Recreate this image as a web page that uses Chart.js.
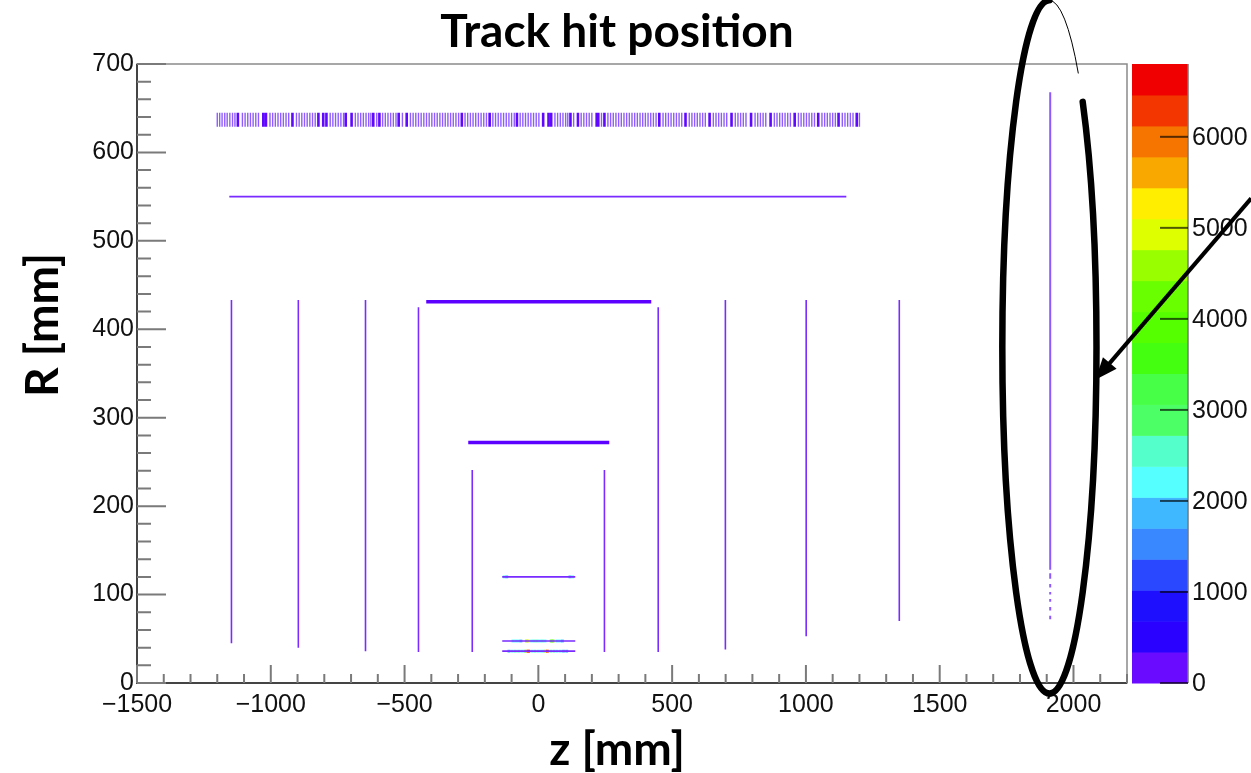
<!DOCTYPE html>
<html>
<head>
<meta charset="utf-8">
<script src="https://cdn.jsdelivr.net/npm/chart.js@4.4.0/dist/chart.umd.min.js"></script>
<style>
  html, body { margin: 0; padding: 0; background: #fff; }
</style>
</head>
<body>
<canvas id="chart" width="1251" height="773"></canvas>
<script>
/* ---------- data ---------- */
const xTicks = [-1500, -1000, -500, 0, 500, 1000, 1500, 2000];
const yTicks = [0, 100, 200, 300, 400, 500, 600, 700];
const zTicks = [0, 1000, 2000, 3000, 4000, 5000, 6000];
const zMax = 6800;

// colour palette of the z scale, bottom to top (20 contours)
const palette = ['#6a0aff','#2a00ff','#1e10ff','#2a48ff','#3a88ff','#40b8ff','#55ffff','#55ffcc','#4dff66','#48ff48',
                 '#44ff10','#55ff00','#6aff00','#99ff00','#ddff00','#ffee00','#f9a800','#f57500','#f33500','#f00000'];

// outer barrel (R ~ 629..645): strip positions in z [mm]
const stripR = [629, 645];
const stripsLight = [-1200,-1191,-1182,-1172,-1163,-1153,-1143,-1134,-1106,-1096,-1086,-1076,-1066,-1056,-1046,
  -1003,-993,-983,-973,-963,-953,-943,-933,-904,-894,-884,-874,-864,-854,-844,-834,
  -778,-768,-758,-748,-738,-728,-684,-674,-664,-654,-644,-634,-626,-604,-582,-572,-562,-552,-542,-532,-508,
  -478,-468,-458,-448,-438,-428,-418,-408,-398,-388,-378,-368,-358,-348,-338,-328,-318,-308,-298,
  -274,-264,-254,-244,-234,-224,-214,-204,-194,-170,-160,-150,-140,-130,-120,-110,-100,-90,
  -68,-58,-48,-38,-28,-18,-8,2,62,72,82,92,102,110,132,160,170,180,190,200,236,
  260,270,280,290,300,310,320,330,340,350,360,370,380,390,400,410,420,430,440,
  466,476,486,496,506,516,526,536,564,574,584,594,604,614,624,654,664,674,684,694,704,
  736,746,756,766,776,810,820,830,840,850,882,892,902,912,922,932,942,
  972,982,992,1002,1012,1022,1032,1060,1070,1080,1090,1100,1110,1136,1146,1156,1166,1176,1200];
const stripsDark = [-1123,-1028,-1018,-919,-822,-804,-792,-720,-698,-617,-594,-522,-492,-286,-182,-80,
  18,38,48,120,148,218,224,247,452,550,640,722,795,868,958,1046,1122,1190];

// vertical (disk-like) layers: [z, Rmin, Rmax]
const vertLayers = [[-1147,45,433],[-897,40,433],[-646,36,433],[-448,35,425],[-247,35,241],
                    [247,35,241],[448,35,425],[699,38,433],[1001,53,433],[1349,70,433]];
// horizontal (barrel) layers: [R, zMin, zMax]
const barrelThin  = [[550,-1155,1151],[120,-135,138],[47.5,-135,138],[36,-135,138]];
const barrelThick = [[431,-419,422],[272,-262,265]];

// far endcap at z ~ 1913
const endcapZ = 1913;
const endcapSolid = [128, 668];
const endcapDots = [[118,124],[108,112],[100,103],[92,95],[82,86],[72,76]];

// hot cells of the innermost layers: z, R, hit count
const hotCells = [
  {x:-128,y:120,n:2200},{x:-118,y:120,n:1900},{x:118,y:120,n:1900},{x:128,y:120,n:2200},
  {x:-95,y:47.5,n:2200},{x:-85,y:47.5,n:2300},{x:-75,y:47.5,n:2100},{x:-65,y:47.5,n:1800},{x:-45,y:47.5,n:4500},
  {x:-38,y:47.5,n:5300},{x:-25,y:47.5,n:2300},{x:-15,y:47.5,n:2500},{x:-5,y:47.5,n:2400},{x:5,y:47.5,n:2200},
  {x:15,y:47.5,n:2600},{x:25,y:47.5,n:2300},{x:48,y:47.5,n:3500},{x:55,y:47.5,n:4200},{x:70,y:47.5,n:2200},
  {x:80,y:47.5,n:2100},{x:90,y:47.5,n:1900},
  {x:-110,y:36,n:1900},{x:-98,y:36,n:2200},{x:-86,y:36,n:2400},{x:-74,y:36,n:2600},{x:-62,y:36,n:2200},
  {x:-50,y:36,n:3000},{x:-42,y:36,n:5500},{x:-36,y:36,n:6600},{x:-24,y:36,n:2300},{x:-12,y:36,n:2500},
  {x:0,y:36,n:2100},{x:12,y:36,n:2200},{x:22,y:36,n:2700},{x:28,y:36,n:5200},{x:34,y:36,n:6400},
  {x:46,y:36,n:2600},{x:58,y:36,n:2400},{x:70,y:36,n:2300},{x:82,y:36,n:2100},{x:94,y:36,n:2000},{x:106,y:36,n:1900}
];

// annotation (ellipse + arrow) in data coordinates
const ring = {z: 1910, r: 380, dz: 176, dr: 392};
const arrow = {z0: 2664, r0: 548, z1: 2082, r1: 343};

/* ---------- helpers ---------- */
const fmt = v => String(v).replace('-', '\u2212');
const colorFor = n => palette[Math.min(palette.length - 1, Math.floor(n / (zMax / palette.length)))];

function vSegs(list) {   // list of [z, r0, r1]
  const pts = [];
  list.forEach(([z, r0, r1]) => { pts.push({x:z,y:r0}, {x:z,y:r1}, {x:z,y:null}); });
  return pts;
}
function hSegs(list) {   // list of [r, z0, z1]
  const pts = [];
  list.forEach(([r, z0, z1]) => { pts.push({x:z0,y:r}, {x:z1,y:r}, {x:z1,y:null}); });
  return pts;
}
const seg = (data, color, width) => ({
  type: 'scatter', data, showLine: true, spanGaps: false,
  borderColor: color, borderWidth: width, pointRadius: 0, pointHoverRadius: 0, fill: false
});

/* ---------- plugins ---------- */
const tickSize = 25;
const tickFont = tickSize + 'px "Liberation Sans", Arial, sans-serif';
const boldFont = 'bold 46px Lato, "Open Sans", sans-serif';

const rootFrame = {
  id: 'rootFrame',
  afterDatasetsDraw(chart) {
    const {ctx, chartArea: a, scales: {x, y}} = chart;
    ctx.save();
    ctx.strokeStyle = '#8a8a8a'; ctx.lineWidth = 1.5;
    ctx.strokeRect(a.left, a.top, a.right - a.left, a.bottom - a.top);
    ctx.strokeStyle = '#444'; ctx.lineWidth = 2;
    ctx.beginPath(); ctx.moveTo(a.left, a.top); ctx.lineTo(a.left, a.bottom); ctx.lineTo(a.right, a.bottom); ctx.stroke();
    ctx.strokeStyle = '#7a7a7a'; ctx.lineWidth = 2;
    ctx.beginPath();
    for (let v = x.min; v <= x.max; v += 100) {
      const px = x.getPixelForValue(v), len = v % 500 === 0 ? 18 : 9;
      ctx.moveTo(px, a.bottom); ctx.lineTo(px, a.bottom - len);
    }
    for (let v = y.min; v <= y.max; v += 20) {
      const py = y.getPixelForValue(v), len = v % 100 === 0 ? 29 : 14;
      ctx.moveTo(a.left, py); ctx.lineTo(a.left + len, py);
    }
    ctx.stroke();
    ctx.restore();
  }
};

const colorBar = {
  id: 'colorBar',
  afterDraw(chart) {
    const {ctx, chartArea: a} = chart;
    const x0 = a.right + 5, w = 56, h = a.bottom - a.top, bh = h / palette.length;
    ctx.save();
    palette.forEach((c, i) => {
      ctx.fillStyle = c;
      ctx.fillRect(x0, a.bottom - (i + 1) * bh, w, bh + 0.5);
    });
    ctx.strokeStyle = '#777'; ctx.lineWidth = 1.5;
    ctx.beginPath(); ctx.moveTo(x0 + w, a.top); ctx.lineTo(x0 + w, a.bottom); ctx.stroke();
    ctx.strokeStyle = 'rgba(0,0,0,0.65)'; ctx.lineWidth = 2;
    ctx.fillStyle = '#111'; ctx.font = tickFont; ctx.textBaseline = 'middle'; ctx.textAlign = 'left';
    zTicks.forEach(v => {
      const py = a.bottom - v / zMax * h;
      ctx.beginPath(); ctx.moveTo(x0 + w, py); ctx.lineTo(x0 + w - 28, py); ctx.stroke();
      ctx.fillText(String(v), x0 + w + 4, py + 1);
    });
    ctx.restore();
  }
};

const texts = {
  id: 'texts',
  afterDraw(chart) {
    const {ctx} = chart;
    ctx.save();
    ctx.fillStyle = '#000'; ctx.font = boldFont; ctx.textAlign = 'center'; ctx.textBaseline = 'alphabetic';
    ctx.fillText('Track hit position', 617, 47);
    ctx.fillText('z [mm]', 617, 765);
    ctx.translate(58, 325); ctx.rotate(-Math.PI / 2);
    ctx.fillText('R [mm]', 0, 0);
    ctx.restore();
  }
};

const annotation = {
  id: 'annotation',
  afterDraw(chart) {
    const {ctx, scales: {x, y}} = chart;
    const cx = x.getPixelForValue(ring.z), cy = y.getPixelForValue(ring.r);
    const rx = x.getPixelForValue(ring.z + ring.dz) - cx, ry = cy - y.getPixelForValue(ring.r + ring.dr);
    ctx.save();
    ctx.strokeStyle = '#000'; ctx.lineCap = 'round';
    ctx.lineWidth = 6.5;
    ctx.beginPath(); ctx.ellipse(cx, cy, rx, ry, 0, -Math.PI / 4, 1.5 * Math.PI); ctx.stroke();
    ctx.lineWidth = 1;
    ctx.beginPath(); ctx.ellipse(cx, cy, rx, ry, 0, -Math.PI / 2, -0.29 * Math.PI); ctx.stroke();
    // arrow
    const ax0 = x.getPixelForValue(arrow.z0), ay0 = y.getPixelForValue(arrow.r0);
    const ax1 = x.getPixelForValue(arrow.z1), ay1 = y.getPixelForValue(arrow.r1);
    const ang = Math.atan2(ay1 - ay0, ax1 - ax0), hl = 22, hw = 9;
    ctx.lineWidth = 4; ctx.lineCap = 'butt';
    ctx.beginPath(); ctx.moveTo(ax0, ay0);
    ctx.lineTo(ax1 - Math.cos(ang) * hl * 0.8, ay1 - Math.sin(ang) * hl * 0.8); ctx.stroke();
    ctx.fillStyle = '#000';
    ctx.beginPath();
    ctx.moveTo(ax1, ay1);
    ctx.lineTo(ax1 - Math.cos(ang) * hl - Math.sin(ang) * hw, ay1 - Math.sin(ang) * hl + Math.cos(ang) * hw);
    ctx.lineTo(ax1 - Math.cos(ang) * hl + Math.sin(ang) * hw, ay1 - Math.sin(ang) * hl - Math.cos(ang) * hw);
    ctx.closePath(); ctx.fill();
    ctx.restore();
  }
};

/* ---------- chart ---------- */
const hitColor = '#7a2bff';
const ctx = document.getElementById('chart').getContext('2d');
new Chart(ctx, {
  type: 'scatter',
  data: {
    datasets: [
      seg(vSegs(stripsLight.map(z => [z, stripR[0], stripR[1]])), '#8f5cff', 1.4),
      seg(vSegs(stripsDark.map(z => [z, stripR[0], stripR[1]])), '#6008ff', 2.6),
      seg(vSegs(vertLayers), hitColor, 1.6),
      seg(hSegs(barrelThin), hitColor, 1.6),
      seg(hSegs(barrelThick), '#5c00ff', 3.5),
      seg(vSegs([[endcapZ, endcapSolid[0], endcapSolid[1]]]), '#8c5aff', 2),
      seg(vSegs(endcapDots.map(([r0, r1]) => [endcapZ, r0, r1])), '#8c5aff', 2),
      {
        type: 'scatter', data: hotCells, pointStyle: 'rect', pointRadius: 2, pointHoverRadius: 2,
        borderWidth: 0, backgroundColor: c => colorFor(c.raw.n)
      }
    ]
  },
  options: {
    responsive: false,
    animation: false,
    events: [],
    layout: { padding: { top: 64, right: 124, left: 0, bottom: 0 } },
    plugins: { legend: { display: false }, tooltip: { enabled: false } },
    scales: {
      x: {
        type: 'linear', min: -1500, max: 2200,
        grid: { display: false }, border: { display: false },
        afterBuildTicks: s => { s.ticks = xTicks.map(v => ({ value: v })); },
        afterFit: s => { s.height = 90; },
        ticks: { color: '#111', font: { family: '"Liberation Sans", Arial', size: tickSize }, padding: -1,
                 maxRotation: 0, autoSkip: false, callback: v => fmt(v) }
      },
      y: {
        type: 'linear', min: 0, max: 700,
        grid: { display: false }, border: { display: false },
        afterBuildTicks: s => { s.ticks = yTicks.map(v => ({ value: v })); },
        afterFit: s => { s.width = 137; },
        ticks: { color: '#111', font: { family: '"Liberation Sans", Arial', size: tickSize }, padding: -5,
                 autoSkip: false, callback: v => fmt(v) }
      }
    }
  },
  plugins: [rootFrame, colorBar, texts, annotation]
});
</script>
</body>
</html>
